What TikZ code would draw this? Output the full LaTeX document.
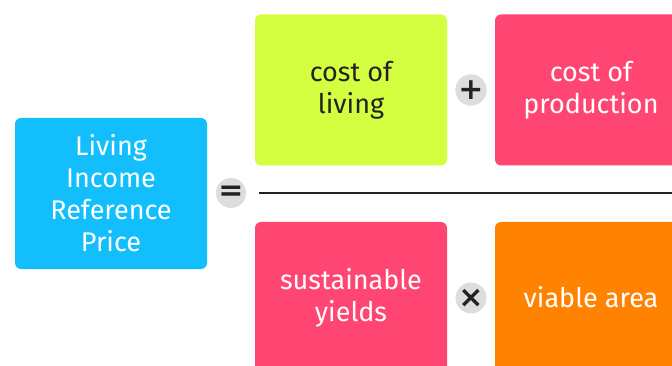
\documentclass[tikz,border=0pt]{standalone}
\usepackage{fontspec}
\setmainfont{Fira Sans}
\newfontfamily\opfont{DejaVu Sans}

\begin{document}
\begin{tikzpicture}[x=1pt,y=-1pt]

\tikzset{term/.style = {shape=rectangle, rounded corners=6pt, minimum width=192pt, minimum height=151pt, align=center, font=\fontsize{27}{32}\selectfont, text=white}}
\tikzset{op/.style = {shape=circle, fill=opgray, minimum size=30pt, inner sep=0pt, font=\opfont\fontsize{30}{30}\selectfont\bfseries, text=opdark}}
\definecolor{livblue}{HTML}{12BFFC}
\definecolor{livgreen}{HTML}{D4FF41}
\definecolor{livpink}{HTML}{FF4672}
\definecolor{livorange}{HTML}{FF8300}
\definecolor{opgray}{HTML}{DDDDDD}
\definecolor{opdark}{HTML}{222222}

\clip (0,0) rectangle (672,366);
\fill[white] (0,0) rectangle (672,366);
%terms
\node[term, fill=livblue] (lirp) at (111,193.5) {Living\\Income\\Reference\\Price};
\node[term, fill=livgreen, text=opdark] (living) at (351,90) {cost of\\living};
\node[term, fill=livpink] (production) at (591,90) {cost of\\production};
\node[term, fill=livpink] (yields) at (351,297.5) {sustainable\\yields};
\node[term, fill=livorange] (area) at (591,297.5) {viable area};
%operators
\node[op] (eq) at (231,193) {=};
\node[op] (plus) at (471,90) {+};
\node[op] (times) at (471,298) {\symbol{"00D7}};
%fraction bar
\coordinate (barstart) at (259,193);
\coordinate (barend) at (672,193);
\draw [line width=2.6pt, color=opdark] (barstart) -- (barend);

\end{tikzpicture}
\end{document}
